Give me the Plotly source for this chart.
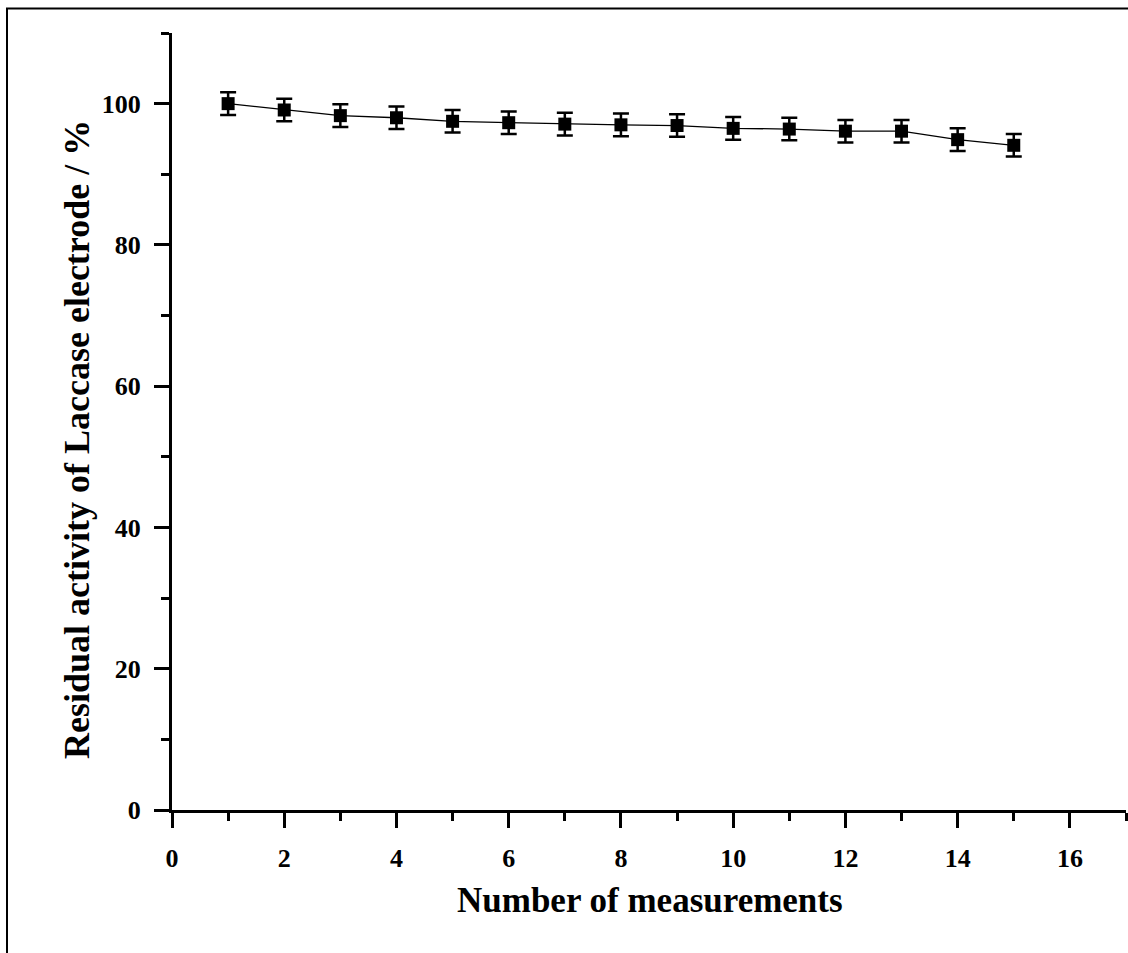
import plotly.graph_objects as go

measurements = list(range(1, 16))
activity = [100.0, 99.1, 98.3, 98.0, 97.5, 97.3, 97.1, 97.0, 96.9, 96.5, 96.4, 96.1, 96.1, 94.9, 94.1]
errors = [1.6] * 15

x_ticks = [0, 2, 4, 6, 8, 10, 12, 14, 16]
y_ticks = [0, 20, 40, 60, 80, 100]

FONT = "Liberation Serif"

fig = go.Figure()
fig.add_trace(go.Scatter(
    x=measurements, y=activity,
    mode="lines+markers",
    line=dict(color="black", width=1.3),
    marker=dict(symbol="square", size=13, color="black"),
    error_y=dict(type="data", array=errors, visible=True, color="black", thickness=2.5, width=8),
    showlegend=False,
))


def axis(rng, ticks, minor_step, standoff):
    return dict(
        range=rng, tickmode="array", tickvals=ticks,
        ticktext=[f"<b>{v}</b>" for v in ticks],
        showline=True, linecolor="black", linewidth=3,
        ticks="outside", tickcolor="black", tickwidth=3, ticklen=15,
        showgrid=False, zeroline=False, automargin=False,
        ticklabelstandoff=standoff,
        tickfont=dict(family=FONT, size=26, color="black"),
        minor=dict(ticks="outside", ticklen=8, tickwidth=3, tickcolor="black",
                   showgrid=False, dtick=minor_step),
    )


fig.update_layout(
    width=1128, height=953,
    margin=dict(l=172, r=2, t=33, b=143),
    paper_bgcolor="white", plot_bgcolor="white",
    xaxis=axis([0, 17], x_ticks, 1, 8),
    yaxis=axis([0, 110], y_ticks, 10, 8),
    annotations=[
        dict(text="<b>Number of measurements</b>", xref="paper", yref="paper",
             x=(650 - 172) / 954, y=(810 - 901) / 777, showarrow=False,
             font=dict(family=FONT, size=35, color="black"), xanchor="center", yanchor="middle"),
        dict(text="<b>Residual activity of Laccase electrode / %</b>", xref="paper", yref="paper",
             x=(77 - 172) / 954, y=(810 - 440) / 777, showarrow=False, textangle=-90,
             font=dict(family=FONT, size=36, color="black"), xanchor="center", yanchor="middle"),
    ],
    shapes=[
        dict(type="rect", xref="paper", yref="paper",
             x0=(7 - 172) / 954, x1=(1150 - 172) / 954,
             y0=(810 - 980) / 777, y1=(810 - 8.5) / 777,
             line=dict(color="black", width=2), fillcolor="rgba(0,0,0,0)", layer="above"),
    ],
)

fig.write_html("out.html")
